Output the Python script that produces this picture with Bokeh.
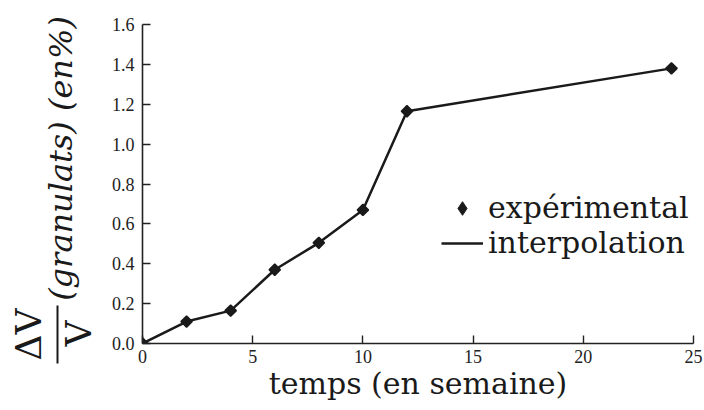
import math
from bokeh.plotting import figure
from bokeh.layouts import row
from bokeh.models import Label, Legend, LegendItem, BoxAnnotation, Range1d, FixedTicker
from bokeh.embed import file_html
from bokeh.resources import INLINE

# data
weeks = [0, 2, 4, 6, 8, 10, 12, 24]
dv = [0.0, 0.11, 0.165, 0.37, 0.505, 0.67, 1.165, 1.38]
x_ticks = [0, 5, 10, 15, 20, 25]
y_ticks = [0.0, 0.2, 0.4, 0.6, 0.8, 1.0, 1.2, 1.4, 1.6]

INK = "#1a1a1a"
SERIF = "DejaVu Serif"
TICKF = "Liberation Serif"
H = 406
LW = 100

# ---- main plot ----
p = figure(width=604, height=H, output_backend="svg", toolbar_location=None,
           x_range=Range1d(0, 25), y_range=Range1d(0, 1.6),
           min_border_left=42, min_border_right=11, min_border_top=24, min_border_bottom=63)
p.outline_line_color = None
p.grid.visible = False
p.frame_align = False

p.axis.axis_line_color = "#222222"
p.axis.axis_line_width = 1.6
p.axis.major_tick_line_color = "#222222"
p.axis.major_tick_line_width = 1.4
p.axis.major_tick_in = 8
p.axis.major_tick_out = 0
p.axis.minor_tick_line_color = None
p.axis.major_label_text_font = TICKF
p.axis.major_label_text_font_size = "18px"
p.axis.major_label_text_color = "#222222"

p.xaxis.ticker = FixedTicker(ticks=x_ticks)
p.yaxis.ticker = FixedTicker(ticks=y_ticks)
p.yaxis.major_label_overrides = {t: f"{t:.1f}" for t in y_ticks}
p.xaxis.major_label_standoff = 6
p.yaxis.major_label_standoff = 8

p.xaxis.axis_label = "temps (en semaine)"
p.xaxis.axis_label_text_font = SERIF
p.xaxis.axis_label_text_font_style = "normal"
p.xaxis.axis_label_text_font_size = "30px"
p.xaxis.axis_label_text_color = INK
p.xaxis.axis_label_standoff = 0

ln = p.line(weeks, dv, line_color=INK, line_width=2.5)
sc = p.scatter(weeks, dv, marker="square", angle=math.pi / 4, size=8,
               fill_color=INK, line_color=INK, line_width=1.5)
# legend glyph: same points as a diamond (hidden in the plot, since legend glyphs ignore rotation)
lg = p.scatter(weeks, dv, marker="diamond", size=12, fill_color=INK, line_color=INK,
               visible=False)

legend = Legend(items=[LegendItem(label="expérimental", renderers=[lg]),
                       LegendItem(label="interpolation", renderers=[ln])],
                location=(299, 83))
legend.border_line_color = None
legend.background_fill_alpha = 0
legend.inactive_fill_alpha = 0
legend.padding = 0
legend.margin = 0
legend.spacing = 0
legend.glyph_width = 42
legend.glyph_height = 34
legend.label_height = 34
legend.label_standoff = 5
legend.label_text_font = SERIF
legend.label_text_font_size = "30px"
legend.label_text_color = INK
p.add_layout(legend)

# ---- left panel holding the y-axis label ----
lp = figure(width=LW, height=H, output_backend="svg", toolbar_location=None,
            x_range=Range1d(0, LW), y_range=Range1d(0, H),
            x_axis_location=None, y_axis_location=None,
            min_border=0, min_border_left=0, min_border_right=0,
            min_border_top=0, min_border_bottom=0)
lp.outline_line_color = None
lp.grid.visible = False
lp.frame_align = False

def lab(x, y, text, size, style="normal"):
    lp.add_layout(Label(x=x, y=H - y, x_units="screen", y_units="screen", text=text,
                        angle=math.pi / 2, text_align="center", text_baseline="middle",
                        text_font=SERIF, text_font_style=style, text_font_size=size,
                        text_color=INK))

lab(28, 334, "ΔV", "36px")
lab(78, 333, "V", "36px")
lab(60, 158, "(granulats) (en%)", "32px", "italic")
lp.add_layout(BoxAnnotation(left=56, right=58, bottom=H - 363, top=H - 305,
                            left_units="screen", right_units="screen",
                            bottom_units="screen", top_units="screen",
                            fill_color=INK, fill_alpha=1, line_color=None))

layout = row(lp, p)
open("out.html", "w").write(file_html(layout, INLINE))
